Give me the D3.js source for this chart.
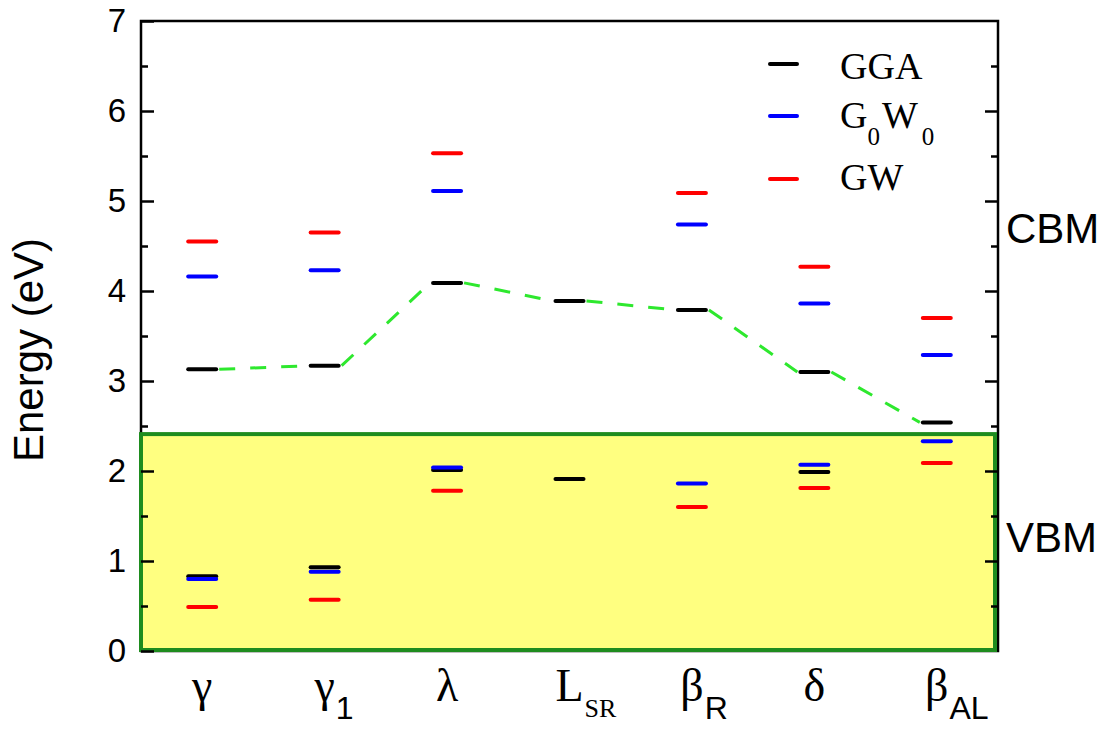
<!DOCTYPE html>
<html>
<head>
<meta charset="utf-8">
<script src="https://cdn.jsdelivr.net/npm/d3@7"></script>
<style>
  body { margin: 0; background: #fff; }
  svg { display: block; }
  .sans { font-family: "Liberation Sans", Arial, sans-serif; }
  .serif { font-family: "Liberation Serif", "Times New Roman", serif; }
</style>
</head>
<body>
<svg width="1115" height="729"></svg>
<script>
// categories (main symbol + subscript)
let catMain = ["γ", "γ", "λ", "L", "β", "δ", "β"];
let catSub = ["", "1", "", "SR", "R", "", "AL"];

// conduction band minimum (eV)
let ggaCBM = [3.13, 3.17, 4.09, 3.89, 3.79, 3.10, 2.54];
let g0w0CBM = [4.16, 4.23, 5.11, null, 4.74, 3.86, 3.29];
let gwCBM = [4.55, 4.65, 5.53, null, 5.09, 4.27, 3.70];

// valence band maximum (eV)
let ggaVBM = [0.83, 0.93, 2.01, 1.91, null, 1.99, null];
let g0w0VBM = [0.80, 0.88, 2.04, null, 1.86, 2.07, 2.33];
let gwVBM = [0.49, 0.57, 1.78, null, 1.60, 1.81, 2.09];

let boxTop = 2.41;
let yTicks = [0, 1, 2, 3, 4, 5, 6, 7];
let yMinor = [0.5, 1.5, 2.5, 3.5, 4.5, 5.5, 6.5];

let svg = d3.select("svg");
let mLeft = 141, mRight = 998, mTop = 21, mBottom = 651;

let x = d3.scaleLinear().domain([0.5, 7.5]).range([mLeft, mRight]);
let y = d3.scaleLinear().domain([0, 7]).range([mBottom, mTop]);
let hw = 14;

// yellow VBM box
svg.append("rect")
    .attr("x", mLeft)
    .attr("y", y(boxTop))
    .attr("width", 995 - mLeft)
    .attr("height", y(0) - y(boxTop))
    .attr("fill", "#ffff80");

// frame
svg.append("rect")
    .attr("x", mLeft).attr("y", mTop)
    .attr("width", mRight - mLeft).attr("height", mBottom - mTop)
    .attr("fill", "none")
    .attr("stroke", "#000")
    .attr("stroke-width", 2.5);

// box border
svg.append("rect")
    .attr("x", mLeft)
    .attr("y", y(boxTop))
    .attr("width", 995 - mLeft)
    .attr("height", y(0) - y(boxTop) - 1)
    .attr("fill", "none")
    .attr("stroke", "#1e8c1e")
    .attr("stroke-width", 4);

// axes
function styleAxis(g) {
    g.select(".domain").remove();
    g.selectAll(".tick line").attr("stroke", "#000").attr("stroke-width", 2.5);
}

svg.append("g")
    .attr("transform", `translate(${mLeft},0)`)
    .call(d3.axisLeft(y).tickValues(yTicks).tickSize(-13).tickPadding(15).tickFormat(d3.format("d")))
    .call(styleAxis)
    .selectAll("text")
    .attr("class", "sans")
    .attr("font-size", 33)
    .attr("fill", "#000");

svg.append("g")
    .attr("transform", `translate(${mLeft},0)`)
    .call(d3.axisLeft(y).tickValues(yMinor).tickSize(-7).tickFormat(""))
    .call(styleAxis);

svg.append("g")
    .attr("transform", `translate(${mRight},0)`)
    .call(d3.axisRight(y).tickValues(yTicks.slice(1, 7)).tickSize(-13).tickFormat(""))
    .call(styleAxis);

svg.append("g")
    .attr("transform", `translate(${mRight},0)`)
    .call(d3.axisRight(y).tickValues(yMinor).tickSize(-7).tickFormat(""))
    .call(styleAxis);

// green dashed connection of GGA CBM
let idx = d3.range(ggaCBM.length - 1);
svg.append("g")
    .selectAll("line")
    .data(idx)
    .enter()
    .append("line")
    .attr("x1", i => x(i + 1) + hw + 3)
    .attr("y1", i => y(ggaCBM[i]))
    .attr("x2", i => x(i + 2) - hw - 3)
    .attr("y2", i => y(ggaCBM[i + 1]))
    .attr("stroke", "#2ee82e")
    .attr("stroke-width", 3)
    .attr("stroke-dasharray", "16,15");

// level bars
let series = [
    { vals: ggaCBM, color: "#000" },
    { vals: ggaVBM, color: "#000" },
    { vals: g0w0CBM, color: "#0000ff" },
    { vals: g0w0VBM, color: "#0000ff" },
    { vals: gwCBM, color: "#ff0000" },
    { vals: gwVBM, color: "#ff0000" }
];

series.forEach(s => {
    svg.append("g")
        .selectAll("line")
        .data(s.vals.map((v, i) => ({ v: v, i: i })).filter(d => d.v !== null))
        .enter()
        .append("line")
        .attr("x1", d => x(d.i + 1) - hw)
        .attr("x2", d => x(d.i + 1) + hw)
        .attr("y1", d => y(d.v))
        .attr("y2", d => y(d.v))
        .attr("stroke", s.color)
        .attr("stroke-width", 4)
        .attr("stroke-linecap", "round");
});

// x category labels
let serifSubs = ["SR"];
catMain.forEach((m, i) => {
    let cx = x(i + 1);
    let t = svg.append("text")
        .attr("class", "serif")
        .attr("x", cx)
        .attr("y", 701)
        .attr("text-anchor", "middle")
        .attr("font-size", 46)
        .text(m);
    if (catSub[i]) {
        let w = t.node().getComputedTextLength();
        let isSerif = serifSubs.includes(catSub[i]);
        svg.append("text")
            .attr("class", isSerif ? "serif" : "sans")
            .attr("x", cx + w / 2 + 1)
            .attr("y", isSerif ? 717 : 719)
            .attr("font-size", isSerif ? 26 : 32)
            .text(catSub[i]);
    }
});

// y axis title
svg.append("text")
    .attr("class", "sans")
    .attr("transform", "translate(43,350) rotate(-90)")
    .attr("text-anchor", "middle")
    .attr("font-size", 42)
    .text("Energy (eV)");

// side labels
svg.append("text").attr("class", "sans").attr("x", 1006).attr("y", 243)
    .attr("font-size", 42).text("CBM");
svg.append("text").attr("class", "sans").attr("x", 1006).attr("y", 552)
    .attr("font-size", 42).text("VBM");

// legend
let legendY = [64, 116, 179];
let legendColors = ["#000", "#0000ff", "#ff0000"];
let legend = svg.append("g");
legend.selectAll("line")
    .data(legendY)
    .enter()
    .append("line")
    .attr("x1", 770).attr("x2", 797)
    .attr("y1", d => d).attr("y2", d => d)
    .attr("stroke", (d, i) => legendColors[i])
    .attr("stroke-width", 4)
    .attr("stroke-linecap", "round");

legend.append("text").attr("class", "serif").attr("x", 840).attr("y", 79)
    .attr("font-size", 38).text("GGA");
let g0 = legend.append("text").attr("class", "serif").attr("x", 840).attr("y", 128)
    .attr("font-size", 38);
g0.append("tspan").text("G");
g0.append("tspan").attr("dy", 17).attr("font-size", 25).text("0");
g0.append("tspan").attr("dy", -17).attr("dx", 2).text("W");
g0.append("tspan").attr("dy", 17).attr("dx", 4).attr("font-size", 25).text("0");
legend.append("text").attr("class", "serif").attr("x", 840).attr("y", 190)
    .attr("font-size", 38).text("GW");
</script>
</body>
</html>
